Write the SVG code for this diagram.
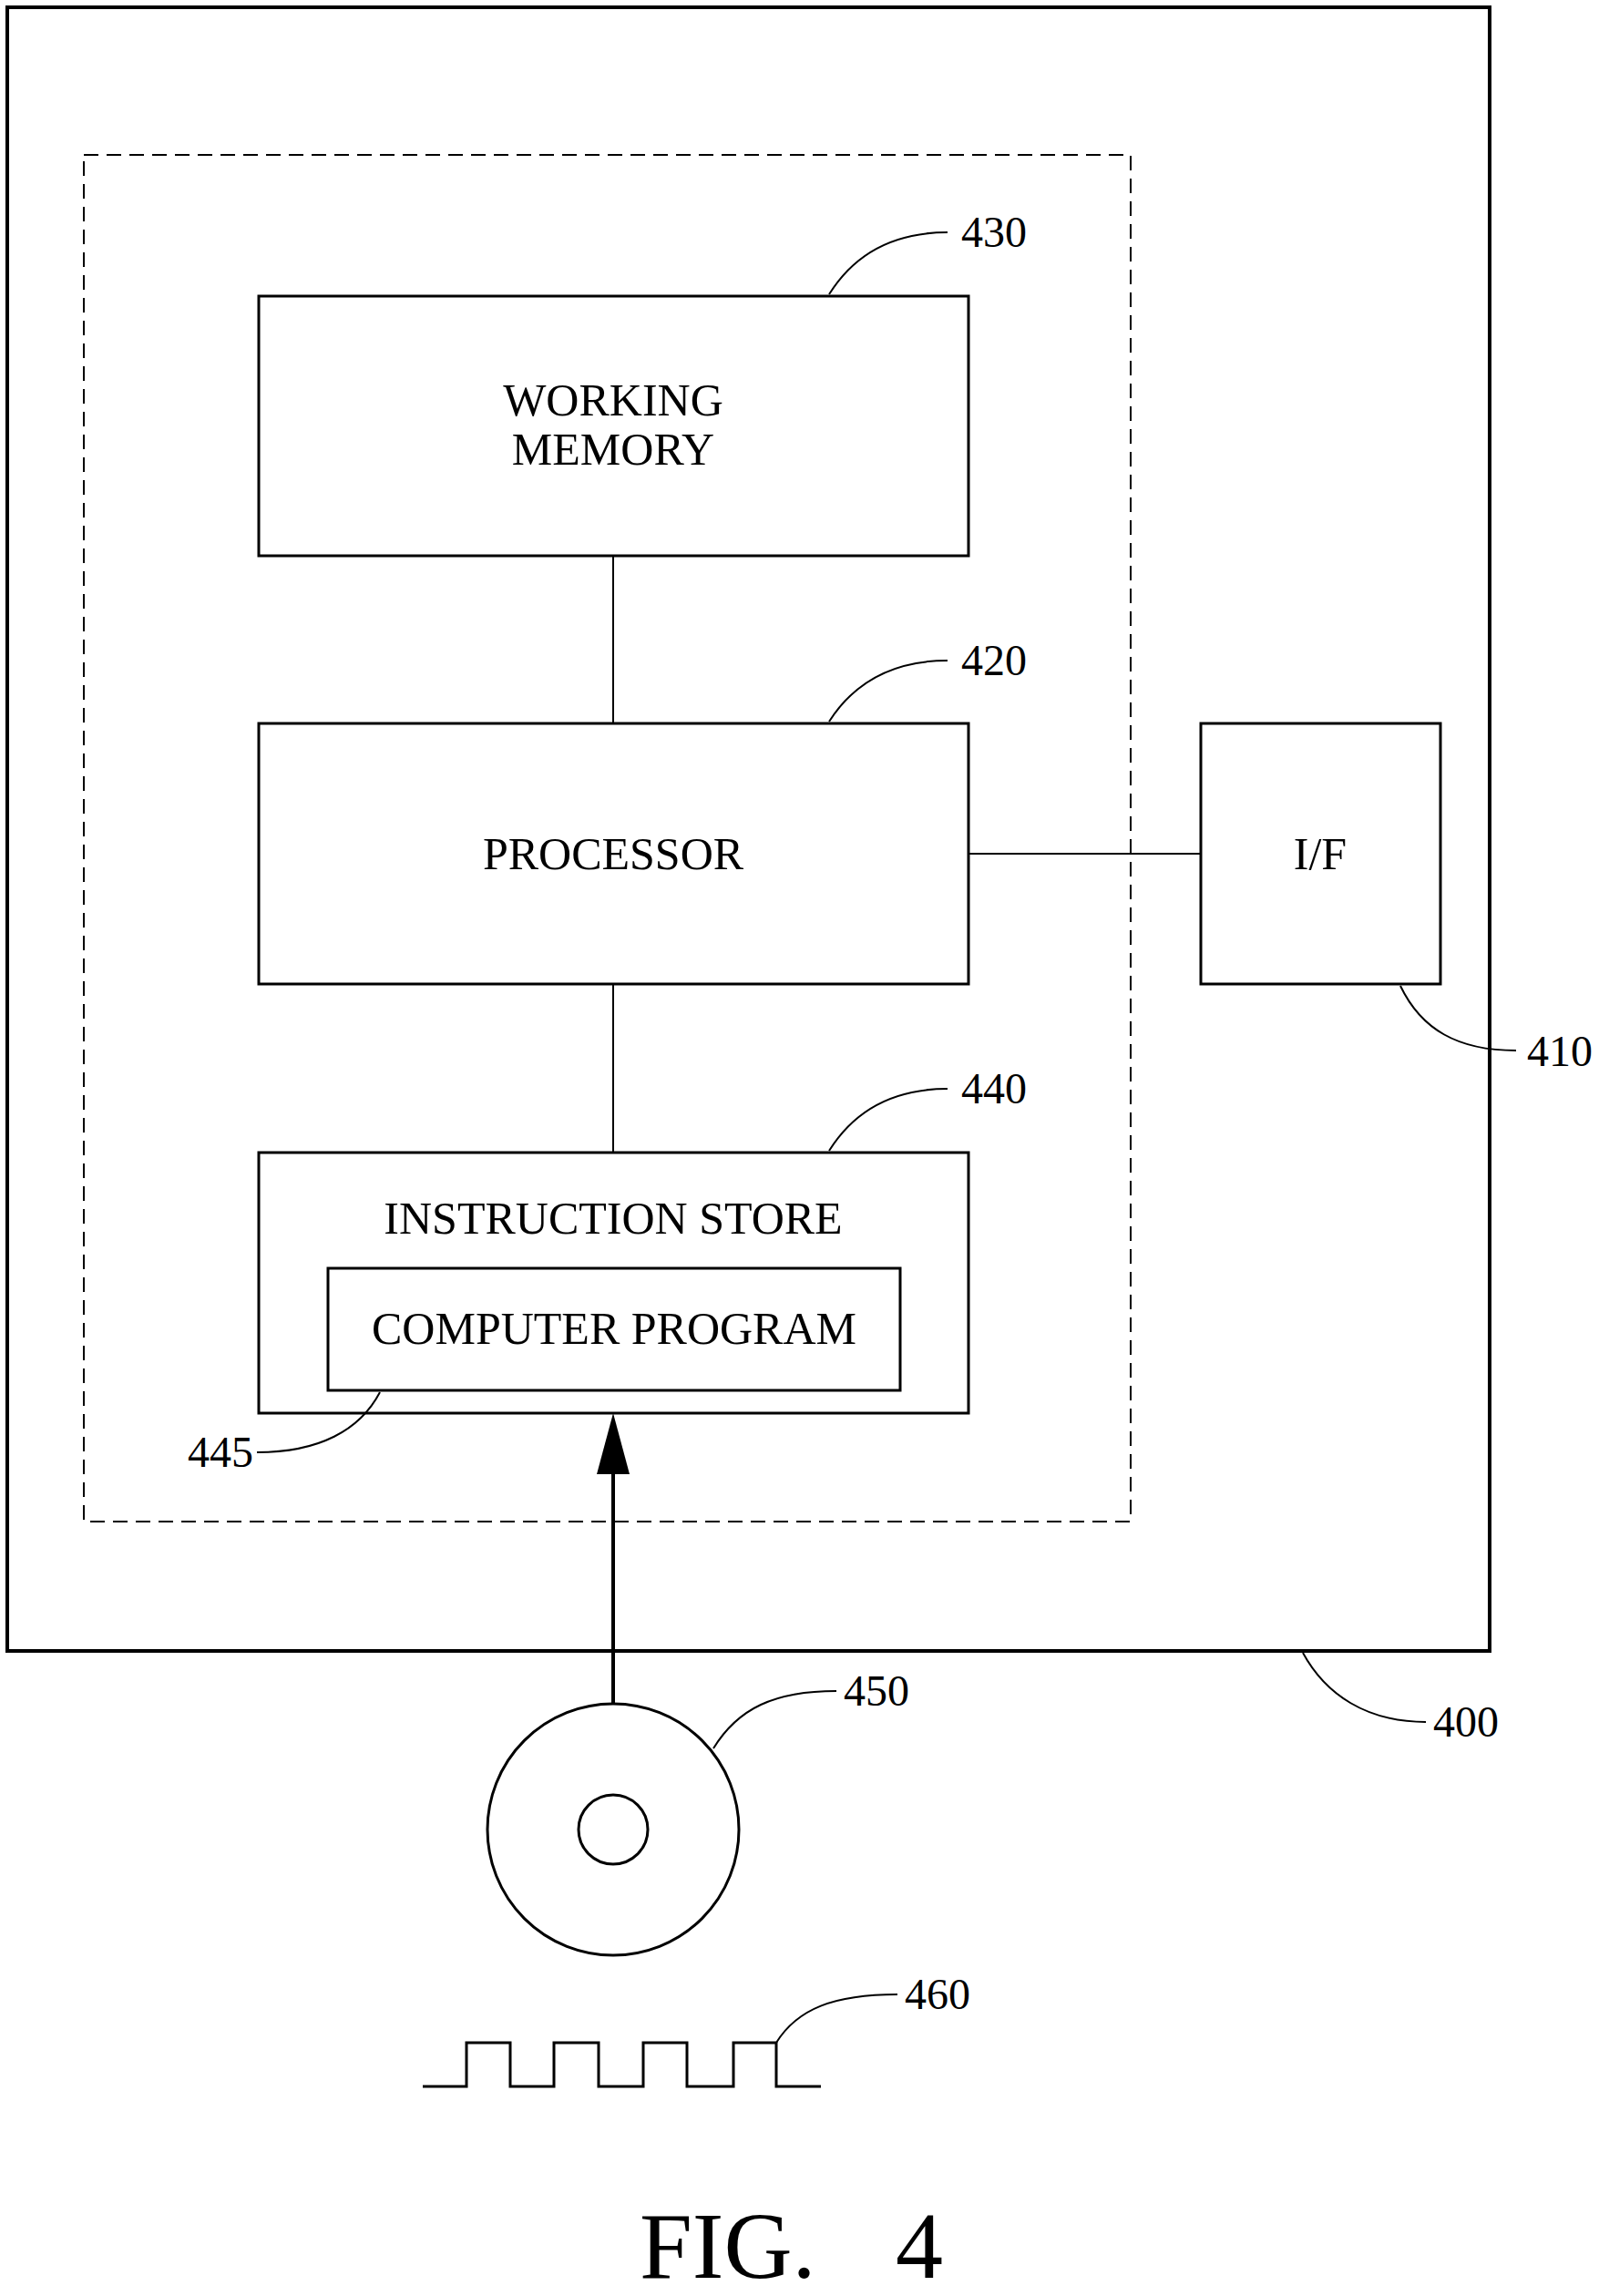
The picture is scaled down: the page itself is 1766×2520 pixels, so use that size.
<svg xmlns="http://www.w3.org/2000/svg" width="1766" height="2520" viewBox="0 0 1766 2520">
<style>
.b{fill:none;stroke:#000;stroke-width:3}
.l{fill:none;stroke:#000;stroke-width:2}
text{font-family:"Liberation Serif","Times New Roman",serif;fill:#000}
.t{font-size:50px;text-anchor:middle}
.n{font-size:48px}
</style>
<rect id="device400" x="8" y="8" width="1627" height="1804" fill="none" stroke="#000" stroke-width="4"/>
<rect id="dashed" x="92" y="170" width="1149" height="1500" fill="none" stroke="#000" stroke-width="2" stroke-dasharray="16 9"/>
<g id="connectors">
<line class="l" x1="673" y1="610" x2="673" y2="794"/>
<line class="l" x1="673" y1="1080" x2="673" y2="1265"/>
<line class="l" x1="1063" y1="937" x2="1318" y2="937"/>
<line x1="673" y1="1870" x2="673" y2="1615" stroke="#000" stroke-width="4"/>
<path d="M673,1551 L655,1618 L691,1618 Z" fill="#000"/>
</g>
<g id="n430"><rect class="b" x="284" y="325" width="779" height="285"/>
<text class="t" x="673" y="456">WORKING</text><text class="t" x="673" y="510">MEMORY</text>
<path class="l" d="M910,323 C940,275 985,255 1040,255"/><text class="n" x="1055" y="271">430</text></g>
<g id="n420"><rect class="b" x="284" y="794" width="779" height="286"/>
<text class="t" x="673" y="954">PROCESSOR</text>
<path class="l" d="M910,792 C940,745 985,725 1040,725"/><text class="n" x="1055" y="741">420</text></g>
<g id="n410"><rect class="b" x="1318" y="794" width="263" height="286"/>
<text class="t" x="1449" y="954">I/F</text>
<path class="l" d="M1537,1082 C1560,1130 1600,1153 1664,1153"/><text class="n" x="1676" y="1170">410</text></g>
<g id="n440"><rect class="b" x="284" y="1265" width="779" height="286"/>
<text class="t" x="673" y="1354">INSTRUCTION STORE</text>
<path class="l" d="M910,1263 C940,1215 985,1195 1040,1195"/><text class="n" x="1055" y="1211">440</text></g>
<g id="n445"><rect class="b" x="360" y="1392" width="628" height="134"/>
<text class="t" x="674" y="1475">COMPUTER PROGRAM</text>
<path class="l" d="M417,1528 C395,1570 350,1594 282,1594"/><text class="n" x="278" y="1610" text-anchor="end">445</text></g>
<g id="n450"><circle cx="673" cy="2008" r="138" fill="none" stroke="#000" stroke-width="3"/><circle cx="673" cy="2008" r="38" fill="none" stroke="#000" stroke-width="3"/>
<path class="l" d="M783,1919 C810,1875 850,1856 918,1856"/><text class="n" x="926" y="1872">450</text></g>
<path class="l" d="M1430,1814 C1455,1860 1500,1890 1565,1890"/><text class="n" x="1573" y="1906">400</text>
<g id="n460"><path fill="none" stroke="#000" stroke-width="3" d="M464,2290 H512 V2242 H560 V2290 H608 V2242 H657 V2290 H706 V2242 H754 V2290 H805 V2242 H852 V2290 H901"/>
<path class="l" d="M852,2242 C875,2205 915,2189 985,2189"/><text class="n" x="993" y="2205">460</text></g>
<text x="702" y="2500" font-size="104">FIG.</text><text x="983" y="2500" font-size="104">4</text>
</svg>
